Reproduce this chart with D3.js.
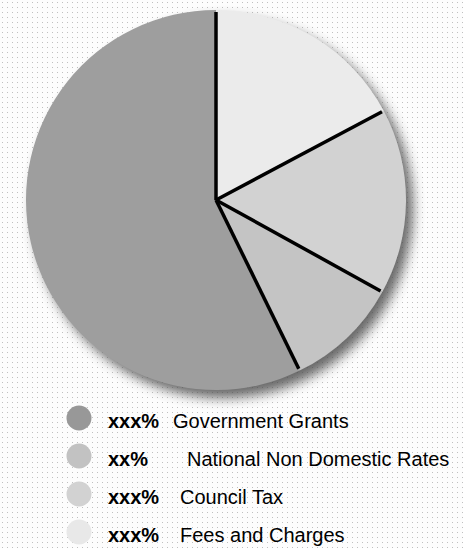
<!DOCTYPE html>
<html><head><meta charset="utf-8">
<script src="https://cdn.jsdelivr.net/npm/d3@7"></script>
<style>html,body{margin:0;padding:0;background:#fff;}svg{display:block;}</style>
</head><body>
<script>
const categories = ["Government Grants", "National Non Domestic Rates", "Council Tax", "Fees and Charges"];
const shares = [57.2, 9.7, 15.8, 17.2];
const pctLabels = ["xxx%", "xx%", "xxx%", "xxx%"];
const colors = ["#9e9e9e", "#c4c4c4", "#d2d2d2", "#ebebeb"];
const swatchColors = ["#989898", "#c2c2c2", "#d2d2d2", "#e8e8e8"];
const labelOffsets = [65, 79, 72, 72];

const W = 463, H = 548, cx = 216, cy = 200, R = 190;
const svg = d3.select("body").append("svg").attr("width", W).attr("height", H);
const defs = svg.append("defs");
const pat = defs.append("pattern").attr("id","dots").attr("width",5).attr("height",5).attr("patternUnits","userSpaceOnUse");
pat.append("rect").attr("width",5).attr("height",5).attr("fill","#fdfdfd");
pat.append("rect").attr("x",2).attr("y",2).attr("width",1).attr("height",1).attr("fill","#c0c0c0");
const f = defs.append("filter").attr("id","shadow").attr("x","-20%").attr("y","-20%").attr("width","140%").attr("height","140%");
f.append("feGaussianBlur").attr("stdDeviation",6);
svg.append("rect").attr("width",W).attr("height",H).attr("fill","url(#dots)");

const g = svg.append("g").attr("transform", `translate(${cx},${cy})`);
g.append("circle").attr("cx",7).attr("cy",8).attr("r",R).attr("fill","#444").attr("opacity",0.8).attr("filter","url(#shadow)");

const pie = d3.pie().sort(null).value(d => d).startAngle(0).endAngle(-2*Math.PI);
const arcs = pie(shares);
const arc = d3.arc().innerRadius(0).outerRadius(R);
g.selectAll("path.slice").data(arcs).join("path").attr("class","slice")
  .attr("d", arc).attr("fill", (d,i) => colors[i]);

// radial separators
g.selectAll("line.sep").data(arcs).join("line").attr("class","sep")
  .attr("x1",0).attr("y1",0)
  .attr("x2", d => Math.sin(d.startAngle) * (R-2))
  .attr("y2", d => -Math.cos(d.startAngle) * (R-2))
  .attr("stroke","#000").attr("stroke-width",3.5);

// legend
const rowY = d3.scalePoint().domain(categories).range([428, 542]);
const lg = svg.append("g");
const rows = lg.selectAll("g").data(categories).join("g");
rows.append("circle").attr("cx",79).attr("cy", d => rowY(d) - 10).attr("r",12.5)
  .attr("fill",(d,i) => swatchColors[i]);
rows.append("text").attr("x",108).attr("y", d => rowY(d))
  .attr("font-family","Liberation Sans, Arial, sans-serif").attr("font-weight","bold").attr("font-size",20)
  .attr("fill","#000").text((d,i) => pctLabels[i]);
rows.append("text").attr("x",(d,i) => 108 + labelOffsets[i]).attr("y", d => rowY(d))
  .attr("font-family","Liberation Sans, Arial, sans-serif").attr("font-size",20)
  .attr("fill","#000").text(d => d);
</script>
</body></html>
